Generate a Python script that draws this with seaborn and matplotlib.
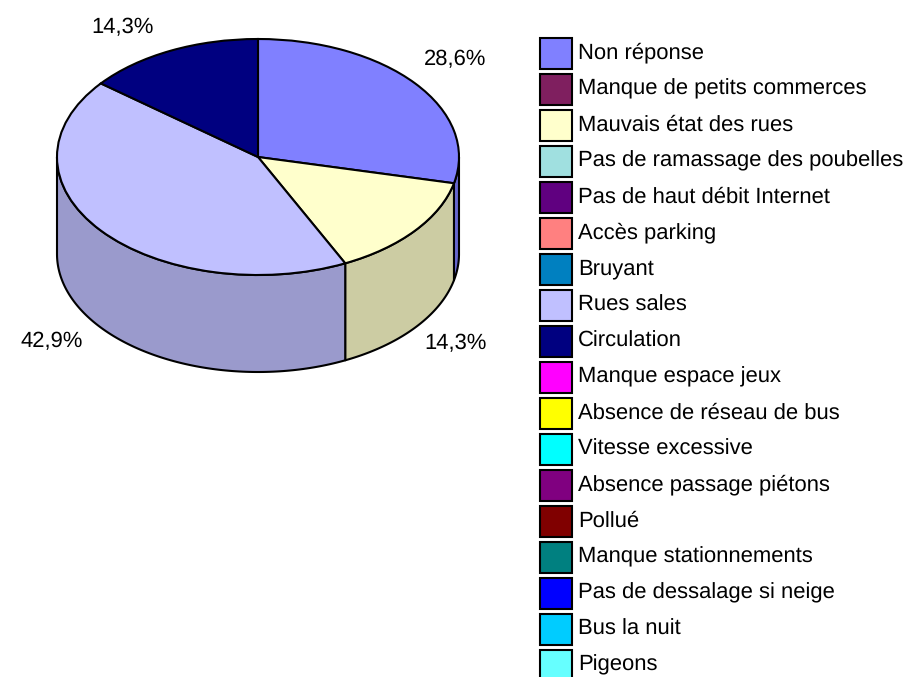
import numpy as np
import matplotlib
matplotlib.use("Agg")
import matplotlib.pyplot as plt
from matplotlib.patches import Patch, Rectangle
from matplotlib.legend_handler import HandlerPatch
import seaborn as sns

categories = ["Non réponse", "Manque de petits commerces", "Mauvais état des rues",
              "Pas de ramassage des poubelles", "Pas de haut débit Internet", "Accès parking",
              "Bruyant", "Rues sales", "Circulation", "Manque espace jeux",
              "Absence de réseau de bus", "Vitesse excessive", "Absence passage piétons",
              "Pollué", "Manque stationnements", "Pas de dessalage si neige",
              "Bus la nuit", "Pigeons"]
values = [2, 0, 1, 0, 0, 0, 0, 3, 1, 0, 0, 0, 0, 0, 0, 0, 0, 0]
colors = ["#8080FF", "#7F1F5F", "#FFFFCC", "#A0E0E0", "#600080", "#FF8080",
          "#0080C0", "#C0C0FF", "#000080", "#FF00FF", "#FFFF00", "#00FFFF",
          "#800080", "#800000", "#008080", "#0000FF", "#00CCFF", "#66FFFF"]

sns.set_theme(style="white")
plt.rcParams["font.family"] = ["Liberation Sans", "DejaVu Sans"]
plt.rcParams["text.hinting"] = "none"
plt.rcParams["text.hinting_factor"] = 1
palette = sns.color_palette(colors)

W, H = 907, 677
CX, CY, RX, RY, DEPTH = 258, 157, 201, 118, 97
FS = 15.8
LW = 1.5

fig = plt.figure(figsize=(W / 100, H / 100), dpi=100, facecolor="white")
ax = fig.add_axes([0, 0, 1, 1])


def px(x, y):
    return (x - CX) / RX, (CY - y) / RY


vals = np.array(values, dtype=float)
keep = vals > 0
shown = vals[keep]
shown_colors = [c for c, k in zip(palette, keep) if k]

ax.pie(shown, colors=shown_colors, startangle=90, counterclock=False, radius=1,
       wedgeprops=dict(edgecolor="black", linewidth=LW, zorder=3))

# Side wall of the cylinder, from the same shares
depth = DEPTH / RY
edges = np.concatenate([[0], np.cumsum(shown) / shown.sum() * 360])
for start, end, col in zip(edges[:-1], edges[1:], shown_colors):
    a, b = max(start, 90), min(end, 270)
    if a >= b:
        continue
    t = np.radians(np.linspace(a, b, 120))
    x, y = np.sin(t), np.cos(t)
    xs = np.concatenate([x, x[::-1]])
    ys = np.concatenate([y, y[::-1] - depth])
    dark = tuple(0.8 * c for c in col)
    ax.fill(xs, ys, facecolor=dark, edgecolor="black", linewidth=LW,
            joinstyle="round", zorder=2)

ax.set_aspect("auto")
ax.set_xlim(-CX / RX, (W - CX) / RX)
ax.set_ylim(-(H - CY) / RY, CY / RY)
ax.set_axis_off()

# Percent labels
percents = [f"{v / shown.sum() * 100:.1f}%".replace(".", ",") for v in shown]
label_pos = [(455, 60), (456, 343), (52, 342), (123, 28)]
for txt, (lx, ly) in zip(percents, label_pos):
    ax.text(*px(lx, ly), txt, ha="center", va="center", fontsize=FS, color="black")


# Legend: swatches sit a little below the text line
def lowered_swatch(legend, orig_handle, xdescent, ydescent, width, height, fontsize):
    return Rectangle((-xdescent, -ydescent - 0.11 * fontsize), width, height)


handles = [Patch(facecolor=c, edgecolor="black", linewidth=LW) for c in palette]
em = FS * 100 / 72
swatch_h = 30.5 / em
ax.legend(handles, categories, loc="upper left", bbox_to_anchor=px(539.5, 36),
          bbox_transform=ax.transData, frameon=False, fontsize=FS, borderpad=0,
          borderaxespad=0, handlelength=32.5 / em, handleheight=(swatch_h - 0.245) / 0.65,
          handletextpad=6 / em, labelspacing=5.5 / em, labelcolor="black",
          handler_map={Patch: HandlerPatch(patch_func=lowered_swatch)})

fig.savefig("out.png", dpi=100)
